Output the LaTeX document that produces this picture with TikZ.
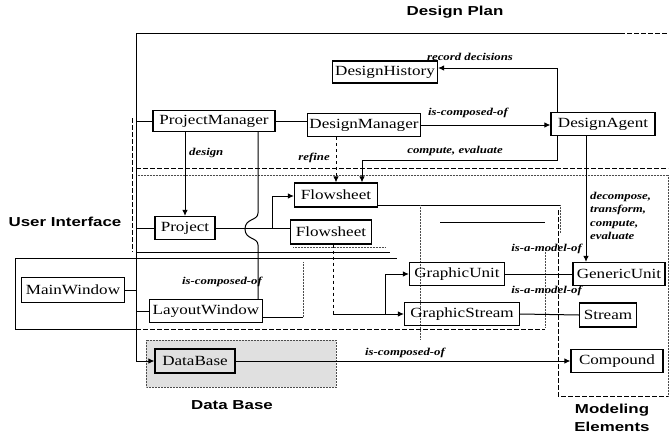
\documentclass[tikz,border=0pt]{standalone}
\usepackage{fontspec}
\setmainfont[FakeStretch=1.22]{Liberation Serif}
\newfontfamily\titlefont[FakeStretch=1.3]{Liberation Sans}
\usetikzlibrary{arrows.meta}
\begin{document}
\begin{tikzpicture}[x=1pt,y=-1pt,
  box/.style={draw, line width=1.2pt, inner sep=2pt, font=\fontsize{14}{14}\selectfont, anchor=center},
  lbl/.style={font=\fontsize{10.5}{11}\selectfont\bfseries\itshape, inner sep=1pt},
  region/.style={font=\fontsize{13}{13}\selectfont\titlefont\bfseries, inner sep=0pt},
  con/.style={line width=1pt},
  arr/.style={con, -{Latex[length=6pt,width=5.5pt]}},
  frame/.style={line width=0.7pt},
  thinframe/.style={line width=0.5pt, dash pattern=on 5pt off 2pt},
  faint/.style={line width=0.5pt, densely dotted, black!70},
]
\useasboundingbox (0,0) rectangle (670,434);

% ---------- region outlines ----------
% Data Base shaded region
\fill[black!12] (146,340) rectangle (336,387);
\draw[faint] (146,340) rectangle (336,387);
% Design Plan frame
\draw[frame] (136,33) -- (620,33);
\draw[thinframe] (620,33) -- (668,33);
% User Interface frame
\draw[thinframe] (136,168) -- (668,168);
\draw[faint] (136,175) -- (668,175);
\draw[thinframe] (132,118) -- (132,252);
\draw[frame] (136,252) -- (390,252);
\draw[faint] (293,247) -- (385,247);
\draw[frame] (378,205) -- (560,205);
\draw[faint] (560,205) -- (560,233);
\draw[frame] (440,222) -- (545,222);
\draw[faint] (420,205) -- (420,340);
\draw[faint] (545,250) -- (545,327);
% MainWindow frame
\draw[frame] (15,258) rectangle (136,329);
\draw[frame] (136,258) -- (397,258);
\draw[thinframe] (136,329) -- (545,329);
% Modeling Elements frame
\draw[thinframe] (558,210) -- (558,396) -- (668,396);
\draw[faint] (668,175) -- (668,396);

% ---------- nodes ----------
\node[box, minimum width=122pt, minimum height=21pt] (pm) at (214,121) {ProjectManager};
\node[box, minimum width=102pt, minimum height=23pt] (dm) at (364,125) {DesignManager};
\node[box, minimum width=105pt, minimum height=22pt] (dh) at (385,72) {DesignHistory};
\node[box, minimum width=104pt, minimum height=23pt] (da) at (603,124) {DesignAgent};
\node[box, minimum width=60pt, minimum height=23pt] (pj) at (185,228) {Project};
\node[box, minimum width=83pt, minimum height=24pt] (f1) at (336,195) {Flowsheet};
\node[box, minimum width=81pt, minimum height=24pt] (f2) at (331,232) {Flowsheet};
\node[box, minimum width=103pt, minimum height=25pt] (mw) at (73,290) {MainWindow};
\node[box, minimum width=113pt, minimum height=23pt] (lw) at (206,311) {LayoutWindow};
\node[box, minimum width=95pt, minimum height=23pt] (gu) at (457,274) {GraphicUnit};
\node[box, minimum width=115pt, minimum height=23pt] (gs) at (462,314) {GraphicStream};
\node[box, minimum width=92pt, minimum height=23pt] (gen) at (619,274) {GenericUnit};
\node[box, minimum width=57pt, minimum height=24pt] (st) at (608,315) {Stream};
\node[box, minimum width=92pt, minimum height=23pt] (cp) at (617,361) {Compound};
\node[box, minimum width=80pt, minimum height=24pt] (db) at (195,361) {DataBase};

% ---------- region titles ----------
\node[region] (t1) at (455,12) {Design Plan};
\node[region] (t2) at (65,222) {User Interface};
\node[region] (t3) at (232,405) {Data Base};
\node[region] (t4) at (612,410) {Modeling};
\node[region] (t5) at (612,427) {Elements};

% ---------- helper coordinates ----------
\coordinate (busTop) at (136,33);
\coordinate (busDB) at (136,361);
\coordinate (j1) at (385,314);
\coordinate (rc) at (557,68);
\coordinate (ce1) at (557,160);
\coordinate (ce2) at (362,160);
\coordinate (br) at (272,196);
\coordinate (lwEnd) at (303,317);

% ---------- connectors ----------
% main bus
\draw[con] (busTop) -- (busDB);
\draw[arr] (busDB) -- (db.west);
\draw[con] (136,121) -- (pm.west);
\draw[con] (136,228) -- (pj.west);
\draw[con] (mw.east) -- (136,290);
\draw[con] (136,311) -- (lw.west);

% ProjectManager -- DesignManager
\draw[con] (pm.east) -- (pm.east -| dm.west);
% design
\draw[arr] (pm.south -| pj.north) -- (pj.north);
\node[lbl, anchor=west] (ldesign) at (188,153) {design};
% PM -- LayoutWindow with hop
\draw[con] (258,132) -- (258,213) .. controls (258,221) and (245,218) .. (245,229)
      .. controls (245,240) and (258,237) .. (258,245) -- (lw.north -| 258,0);
\node[lbl] (lcomp1) at (222,282) {is-composed-of};
% Project -- Flowsheet
\draw[con] (pj.east) -- (pj.east -| f2.west);
\draw[arr] (pj.east -| br) -- (br) -- (br -| f1.west);
% refine
\draw[con, dashed, -{Latex[length=6pt,width=5.5pt]}] (dm.south -| 336,0) -- (f1.north -| 336,0);
\node[lbl, anchor=east] (lrefine) at (331,158) {refine};
% compute, evaluate
\draw[arr] (da.south -| ce1) -- (ce1) -- (ce2) -- (ce2 |- f1.north);
\node[lbl] (lce) at (455,151) {compute, evaluate};
% record decisions
\draw[arr] (da.north -| rc) -- (rc) -- (rc -| dh.east);
\node[lbl] (lrd) at (470,57) {record decisions};
% is-composed-of DM -> DA
\draw[arr] (dm.east) -- (dm.east -| da.west);
\node[lbl] (lcomp2) at (468,113) {is-composed-of};
% DA -> GenericUnit
\draw[arr] (da.south -| 586,0) -- (gen.north -| 586,0);
\node[lbl, anchor=north west, align=left, font=\fontsize{10.5}{13.5}\selectfont\bfseries\itshape] (ldec) at (589,191) {decompose,\\transform,\\compute,\\evaluate};
\node[lbl, anchor=east] (lmod1) at (583,249) {is-a-model-of};
% Flowsheet -> Graphic elements
\draw[con, dashed] (f2.south -| 333,0) -- (333,314);
\draw[arr] (333,314) -- (gs.west);
\draw[arr] (j1) |- (gu.west);
% model-of links
\draw[con] (gu.east) -- (gen.west);
\draw[con] (gs.east) -- (st.west);
\node[lbl, anchor=east] (lmod2) at (583,291) {is-a-model-of};
% LayoutWindow right stub
\draw[con] (lw.east |- lwEnd) -- (lwEnd);
\draw[faint] (303,262) -- (lwEnd);
% DataBase -> Compound
\draw[arr] (db.east) -- (cp.west);
\node[lbl] (lcomp3) at (405,353) {is-composed-of};
\end{tikzpicture}
\end{document}
